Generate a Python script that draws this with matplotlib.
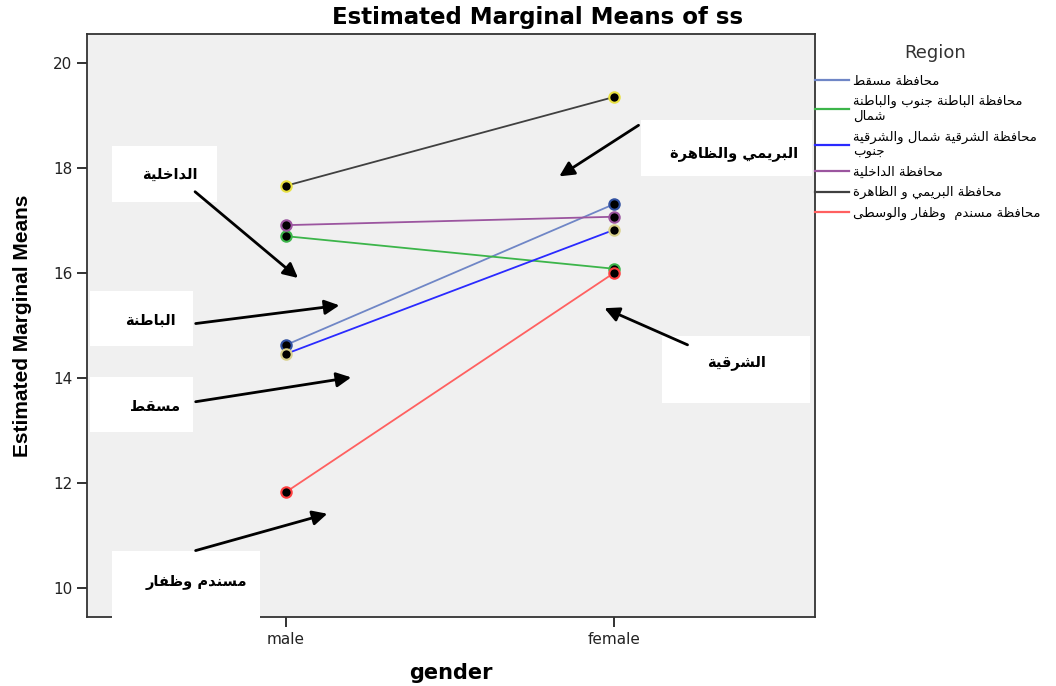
import matplotlib
matplotlib.use('Agg')
from matplotlib import pyplot as plt
from matplotlib.patches import Rectangle
from matplotlib.lines import Line2D

# datos
genero = ['male', 'female']
regiones = ['محافظة مسقط', 'محافظة الباطنة جنوب والباطنة\nشمال',
            'محافظة الشرقية شمال والشرقية\nجنوب', 'محافظة الداخلية',
            'محافظة البريمي و الظاهرة', 'محافظة مسندم  وظفار والوسطى']
muscat = [14.63, 17.31]
batinah = [16.70, 16.08]
sharqiyah = [14.46, 16.82]
dakhiliyah = [16.91, 17.07]
buraimi = [17.66, 19.35]
musandam = [11.83, 16.00]
series = [muscat, batinah, sharqiyah, dakhiliyah, buraimi, musandam]
colores = ['#6f86c6', '#3cb54a', '#2a2aff', '#9b559f', '#404040', '#ff6060']
bordes = ['#3050a0', '#3cb54a', '#d8d08a', '#9b559f', '#e8e040', '#ff4040']

# etiquetas con flechas: texto, caja (x0,y0,x1,y1), cola, punta
etiquetas = ['الداخلية', 'الباطنة', 'مسقط', 'مسندم وظفار', 'البريمي والظاهرة', 'الشرقية']
cajas = [(-0.530, 17.35, -0.210, 18.42), (-0.598, 14.61, -0.284, 15.66),
         (-0.598, 12.97, -0.284, 14.02), (-0.530, 9.43, -0.079, 10.70),
         (1.082, 17.85, 1.604, 18.91), (1.146, 13.52, 1.598, 14.80)]
textos_xy = [(-0.354, 17.87), (-0.415, 15.10), (-0.40, 13.45), (-0.274, 10.10),
             (1.366, 18.28), (1.375, 14.29)]
colas = [(-0.284, 17.58), (-0.284, 15.03), (-0.284, 13.54), (-0.284, 10.70),
         (1.082, 18.84), (1.232, 14.61)]
puntas = [(0.043, 15.87), (0.171, 15.39), (0.207, 14.02), (0.134, 11.43),
          (0.826, 17.81), (0.963, 15.35)]

# formas de presentacion arabes (aislada, final, inicial, media)
letras = [chr(c) for c in list(range(0x0621, 0x063B)) + list(range(0x0641, 0x064B))]
nformas = [1, 2, 2, 2, 2, 4, 2, 4, 2, 4, 4, 4, 4, 4, 2, 2, 2, 2, 4, 4, 4, 4, 4, 4, 4, 4,
           4, 4, 4, 4, 4, 4, 4, 2, 2, 4]
FORMAS = {}
base = 0xFE80
for l, k in zip(letras, nformas):
    FORMAS[l] = (base, k)
    base += k


def arabe(s):
    lineas = []
    for linea in s.split('\n'):
        out = []
        for i, c in enumerate(linea):
            if c not in FORMAS:
                out.append(c)
                continue
            b, k = FORMAS[c]
            prev = linea[i-1] if i > 0 else ''
            nxt = linea[i+1] if i+1 < len(linea) else ''
            jp = prev in FORMAS and FORMAS[prev][1] == 4
            jn = k == 4 and nxt in FORMAS
            if k == 1:
                f = 0
            elif jp and jn:
                f = 3
            elif jp:
                f = 1
            elif jn:
                f = 2
            else:
                f = 0
            out.append(chr(b + f))
        lineas.append(''.join(reversed(out)))
    return '\n'.join(lineas)


plt.rcParams['font.family'] = ['DejaVu Sans']
fig = plt.figure(figsize=(10.56, 6.86), dpi=100)
ax = fig.add_axes([0.0824, 0.1006, 0.6894, 0.8499])
ax.set_facecolor('#f0f0f0')

x = list(range(len(genero)))
for s, c, b in zip(series, colores, bordes):
    ax.plot(x, s, color=c, lw=1.3, marker='o', ms=7.5, mfc='black', mec=b, mew=1.5, zorder=4)

for (x0, y0, x1, y1), t, txy, cola, punta in zip(cajas, etiquetas, textos_xy, colas, puntas):
    ax.add_patch(Rectangle((x0, y0), x1-x0, y1-y0, facecolor='white', edgecolor='none',
                           zorder=5, clip_on=False))
    ax.text(txy[0], txy[1], arabe(t), ha='center', va='center', fontsize=10.5,
            fontweight='bold', zorder=6)
    ax.annotate('', xy=punta, xytext=cola,
                arrowprops=dict(arrowstyle='-|>', lw=2, color='black', mutation_scale=22),
                zorder=6)

ax.set_xlim(-0.607, 1.613)
ax.set_ylim(9.45, 20.55)
ax.set_xticks(x)
ax.set_xticklabels(genero)
ax.set_yticks([10, 12, 14, 16, 18, 20])
ax.tick_params(axis='both', direction='out', length=7, width=1.3, labelsize=11,
               colors='#222222')
for lado in ['left', 'bottom', 'top', 'right']:
    ax.spines[lado].set_linewidth(1.3)
    ax.spines[lado].set_color('#333333')

fig.text(0.509, 0.975, 'Estimated Marginal Means of ss', fontsize=16.5, fontweight='bold',
         ha='center', va='center')
ax.set_xlabel('gender', fontsize=15, fontweight='bold', labelpad=12)
ax.set_ylabel('Estimated Marginal Means', fontsize=15, fontweight='bold',
              family='Liberation Sans', labelpad=15)

fig.text(0.886, 0.923, 'Region', fontsize=13, color='#333333', ha='center', va='center')
leyenda = [Line2D([0], [0], color=c, lw=1.6) for c in colores]
leg = ax.legend(leyenda, [arabe(r) for r in regiones], loc='upper left',
                bbox_to_anchor=(1.0, 0.93), frameon=False, fontsize=9.5,
                handlelength=2.6, handletextpad=0.3, borderaxespad=0, borderpad=0,
                labelspacing=0.55)

plt.savefig('out.png', dpi=100)
